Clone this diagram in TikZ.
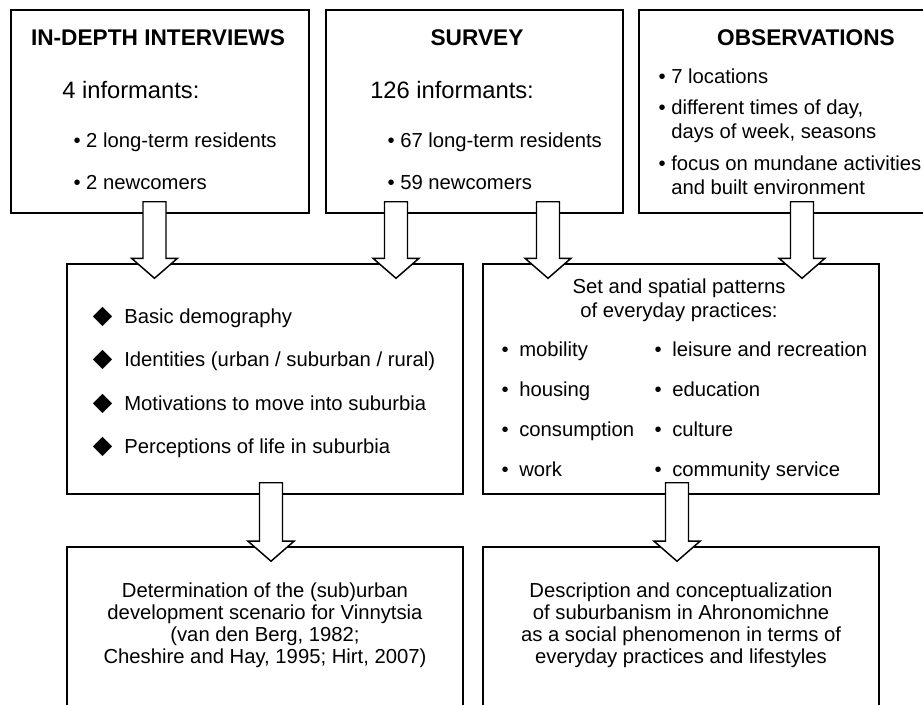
\documentclass[tikz,border=0pt]{standalone}
\usepackage{fontspec}
\setmainfont{Liberation Sans}
\newfontfamily\symfont{DejaVu Sans}
\usepackage{tikz}
\usetikzlibrary{positioning, calc}
\tikzset{
  box/.style={rectangle, draw=black, line width=1.1pt, fill=white, inner sep=0pt},
  topbox/.style={box, minimum width=223.5pt, minimum height=152.25pt},
  midbox/.style={box, minimum width=297pt, minimum height=172.5pt},
  endbox/.style={box, minimum width=297pt, minimum height=160pt},
  ttl/.style={font=\fontsize{17}{20}\selectfont\bfseries, inner sep=0pt, anchor=base},
  cnt/.style={font=\fontsize{17.8}{21}\selectfont, inner sep=0pt, anchor=base west},
  itm/.style={font=\fontsize{15.2}{18}\selectfont, inner sep=0pt, anchor=base west, align=left},
  hdr/.style={font=\fontsize{15.2}{18}\selectfont, inner sep=0pt, anchor=base, align=center},
  res/.style={font=\fontsize{15.2}{16.3}\selectfont, inner sep=0pt, anchor=base, align=center},
  fatarr/.style={draw=black, line width=1.1pt, fill=white, line join=miter},
}
\newcommand{\bul}{\llap{•\ }}
\newcommand{\wbul}{\llap{•\hspace{8pt}}}
\newcommand{\dia}{\llap{{\symfont\fontsize{19}{19}\selectfont ◆}\hspace{9pt}}}
% block arrow: x position, from node, to node
\newcommand{\fatarrow}[3]{%
  \path (#1,0 |- #2.south) coordinate (arrs) (#1,0 |- #3.north) coordinate (arrt);
  \draw[fatarr] ($(arrs)+(-11.5,-12)$) -- ($(arrt)+(-11.5,-5)$) -- ($(arrt)+(-23,-5)$)
    -- ($(arrt)+(0,15)$) -- ($(arrt)+(23,-5)$) -- ($(arrt)+(11.5,-5)$)
    -- ($(arrs)+(11.5,-12)$) -- cycle;
}
\begin{document}
\begin{tikzpicture}[x=0.75pt, y=-0.75pt]
  \useasboundingbox (0,0) rectangle (923,704);
  \clip (0,0) rectangle (923,704);
  % methods
  \node[topbox] (interv) at (160,111.5) {};
  \node[topbox, minimum width=222.75pt, right=11.6pt of interv] (survey) {};
  \node[topbox, right=10.9pt of survey] (observ) {};
  % results
  \node[midbox] (basics) at (265,379) {};
  \node[midbox, right=13.9pt of basics] (practices) {};
  \node[endbox, below=38.6pt of basics] (scenario) {};
  \node[endbox, below=38.6pt of practices] (lifestyle) {};

  \node[ttl] (intervttl) at (158,45) {IN-DEPTH INTERVIEWS};
  \node[cnt] (intervn) at (62,98) {4 informants:};
  \node[itm] (intervold) at (86,147) {\bul 2 long-term residents};
  \node[itm] (intervnew) at (86,189) {\bul 2 newcomers};

  \node[ttl] (surveyttl) at (477,45) {SURVEY};
  \node[cnt] (surveyn) at (370,98) {126 informants:};
  \node[itm] (surveyold) at (400,147) {\bul 67 long-term residents};
  \node[itm] (surveynew) at (400,189) {\bul 59 newcomers};

  \node[ttl] (observttl) at (806,45) {OBSERVATIONS};
  \node[itm] (observloc) at (671,83) {\bul 7 locations};
  % multi-line nodes: base is the last line
  \node[itm] (observtime) at (671,138) {\bul different times of day,\\days of week, seasons};
  \node[itm] (observfocus) at (671,194) {\bul focus on mundane activities\\and built environment};

  \node[itm] (demog) at (124,323) {\dia Basic demography};
  \node[itm] (ident) at (124,366) {\dia Identities (urban / suburban / rural)};
  \node[itm] (motiv) at (124,410) {\dia Motivations to move into suburbia};
  \node[itm] (percep) at (124,453) {\dia Perceptions of life in suburbia};

  \node[hdr] (practhdr) at (679,317) {Set and spatial patterns\\of everyday practices:};
  \node[itm] (mobil) at (519,356) {\wbul mobility};
  \node[itm] (housing) at (519,396) {\wbul housing};
  \node[itm] (consum) at (519,436) {\wbul consumption};
  \node[itm] (work) at (519,476) {\wbul work};
  \node[itm] (leisure) at (672,356) {\wbul leisure and recreation};
  \node[itm] (educ) at (672,396) {\wbul education};
  \node[itm] (cult) at (672,436) {\wbul culture};
  \node[itm] (commun) at (672,476) {\wbul community service};

  \node[res] (scentxt) at (265,663) {Determination of the (sub)urban\\development scenario for Vinnytsia\\(van den Berg, 1982;\\Cheshire and Hay, 1995; Hirt, 2007)};
  \node[res] (lifetxt) at (681,663) {Description and conceptualization\\of suburbanism in Ahronomichne\\as a social phenomenon in terms of\\everyday practices and lifestyles};

  \fatarrow{154.5}{interv}{basics}
  \fatarrow{396}{survey}{basics}
  \fatarrow{548}{survey}{practices}
  \fatarrow{802}{observ}{practices}
  \fatarrow{271}{basics}{scenario}
  \fatarrow{677}{practices}{lifestyle}
\end{tikzpicture}
\end{document}
